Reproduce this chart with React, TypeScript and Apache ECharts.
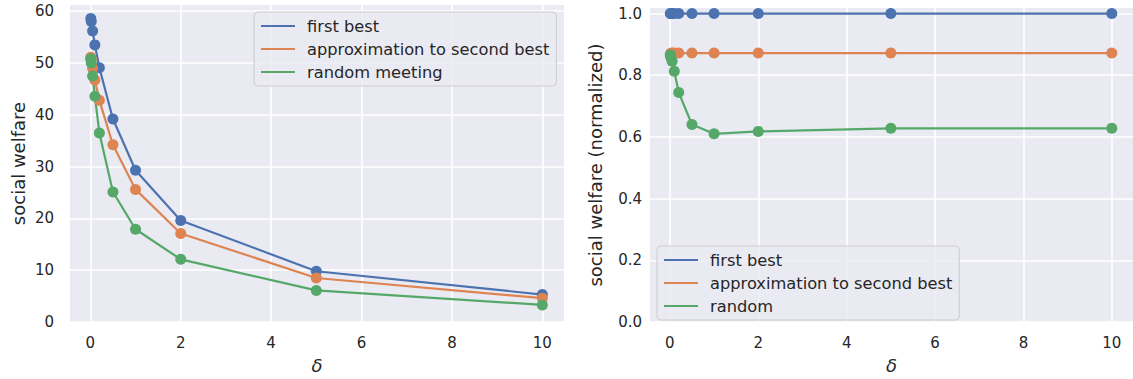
import React, { useEffect, useRef } from "react";
import * as echarts from "echarts";

const deltas = [0.01, 0.02, 0.05, 0.1, 0.2, 0.5, 1, 2, 5, 10];
const firstBest = [58.6, 58.0, 56.2, 53.5, 49.1, 39.2, 29.3, 19.6, 9.8, 5.3];
const approxSecondBest = [51.1, 50.6, 49.0, 46.7, 42.8, 34.2, 25.6, 17.1, 8.5, 4.6];
const randomMeeting = [50.8, 50.0, 47.5, 43.6, 36.5, 25.1, 17.9, 12.1, 6.1, 3.3];
const firstBestNorm = [1.0, 1.0, 1.0, 1.0, 1.0, 1.0, 1.0, 1.0, 1.0, 1.0];
const approxSecondBestNorm = [0.868, 0.871, 0.872, 0.872, 0.872, 0.872, 0.872, 0.872, 0.872, 0.872];
const randomNorm = [0.866, 0.858, 0.845, 0.813, 0.744, 0.64, 0.61, 0.618, 0.628, 0.628];

const leftNames = ["first best", "approximation to second best", "random meeting"];
const rightNames = ["first best", "approximation to second best", "random"];

const COLORS = ["#4C72B0", "#DD8452", "#55A868"];
const BG = "#EAEAF2";
const TXT = "#262626";
const FONT = "DejaVu Sans";

const pairs = (ys: number[]) => deltas.map((d, i) => [d, ys[i]]);

export default function App() {
  const ref = useRef<HTMLDivElement>(null);
  useEffect(() => {
    if (!ref.current) return;
    const chart = echarts.init(ref.current, undefined, { renderer: "svg" });

    const xAxisBase = (gridIndex: number, max: number) => ({
      type: "value",
      gridIndex,
      min: -0.45,
      max,
      splitNumber: 5,
      name: "δ",
      nameLocation: "middle",
      nameGap: 34,
      nameTextStyle: { fontFamily: FONT, fontSize: 18, fontStyle: "italic", color: TXT },
      axisLine: { show: false },
      axisTick: { show: false },
      axisLabel: {
        fontFamily: FONT,
        fontSize: 15,
        color: TXT,
        margin: 13,
        showMinLabel: false,
        showMaxLabel: false,
      },
      splitLine: { show: true, showMinLine: false, showMaxLine: false, lineStyle: { color: "#FFFFFF", width: 1.6 } },
    });

    const yAxisBase = (gridIndex: number, max: number, interval: number, name: string, fmt: (v: number) => string, margin: number, nameGap: number) => ({
      type: "value",
      gridIndex,
      min: 0,
      max,
      interval,
      name,
      nameLocation: "middle",
      nameGap,
      nameTextStyle: { fontFamily: FONT, fontSize: 18, color: TXT },
      axisLine: { show: false },
      axisTick: { show: false },
      axisLabel: {
        fontFamily: FONT,
        fontSize: 15,
        color: TXT,
        margin,
        showMaxLabel: false,
        formatter: fmt,
      },
      splitLine: { show: true, showMinLine: true, showMaxLine: false, lineStyle: { color: "#FFFFFF", width: 1.6 } },
    });

    const mkSeries = (name: string, ys: number[], idx: number, color: string) => ({
      type: "line",
      name,
      xAxisIndex: idx,
      yAxisIndex: idx,
      data: pairs(ys),
      symbol: "circle",
      symbolSize: 11,
      showAllSymbol: true,
      lineStyle: { color, width: 2.2 },
      itemStyle: { color },
      emphasis: { disabled: true },
    });

    const legendBase = (left: number, top: number, data: string[]) => ({
      orient: "vertical",
      left,
      top,
      data,
      icon: "rect",
      itemWidth: 34,
      itemHeight: 2,
      itemGap: 3,
      padding: [4, 7, 4, 7],
      backgroundColor: "rgba(234,234,242,0.8)",
      borderColor: "#CCCCCC",
      borderWidth: 1,
      borderRadius: 4,
      selectedMode: false,
      textStyle: { fontFamily: FONT, fontSize: 16.25, color: TXT, lineHeight: 20, padding: [0, 0, 0, 7] },
    });

    chart.setOption({
      animation: false,
      backgroundColor: "#FFFFFF",
      grid: [
        { left: 70, top: 5, width: 494, height: 321, show: true, backgroundColor: BG, borderWidth: 0 },
        { left: 650, top: 8, width: 490, height: 318, show: true, backgroundColor: BG, borderWidth: 0 },
      ],
      xAxis: [xAxisBase(0, 10.48), xAxisBase(1, 10.48)],
      yAxis: [
        yAxisBase(0, 61.2, 10, "social welfare", (v: number) => String(Math.round(v)), 16, 43),
        yAxisBase(1, 1.018, 0.2, "social welfare (normalized)", (v: number) => v.toFixed(1), 8, 46),
      ],
      legend: [legendBase(254, 12, leftNames), legendBase(657, 246, rightNames)],
      series: [
        mkSeries(leftNames[0], firstBest, 0, COLORS[0]),
        mkSeries(leftNames[1], approxSecondBest, 0, COLORS[1]),
        mkSeries(leftNames[2], randomMeeting, 0, COLORS[2]),
        mkSeries(rightNames[0], firstBestNorm, 1, COLORS[0]),
        mkSeries(rightNames[1], approxSecondBestNorm, 1, COLORS[1]),
        mkSeries(rightNames[2], randomNorm, 1, COLORS[2]),
      ],
    });
    return () => chart.dispose();
  }, []);

  return (
    <div style={{ position: "fixed", left: 0, top: 0, width: 1133, height: 379, overflow: "hidden", background: "#fff" }}>
      <div ref={ref} style={{ width: 1133, height: 379 }} />
    </div>
  );
}
